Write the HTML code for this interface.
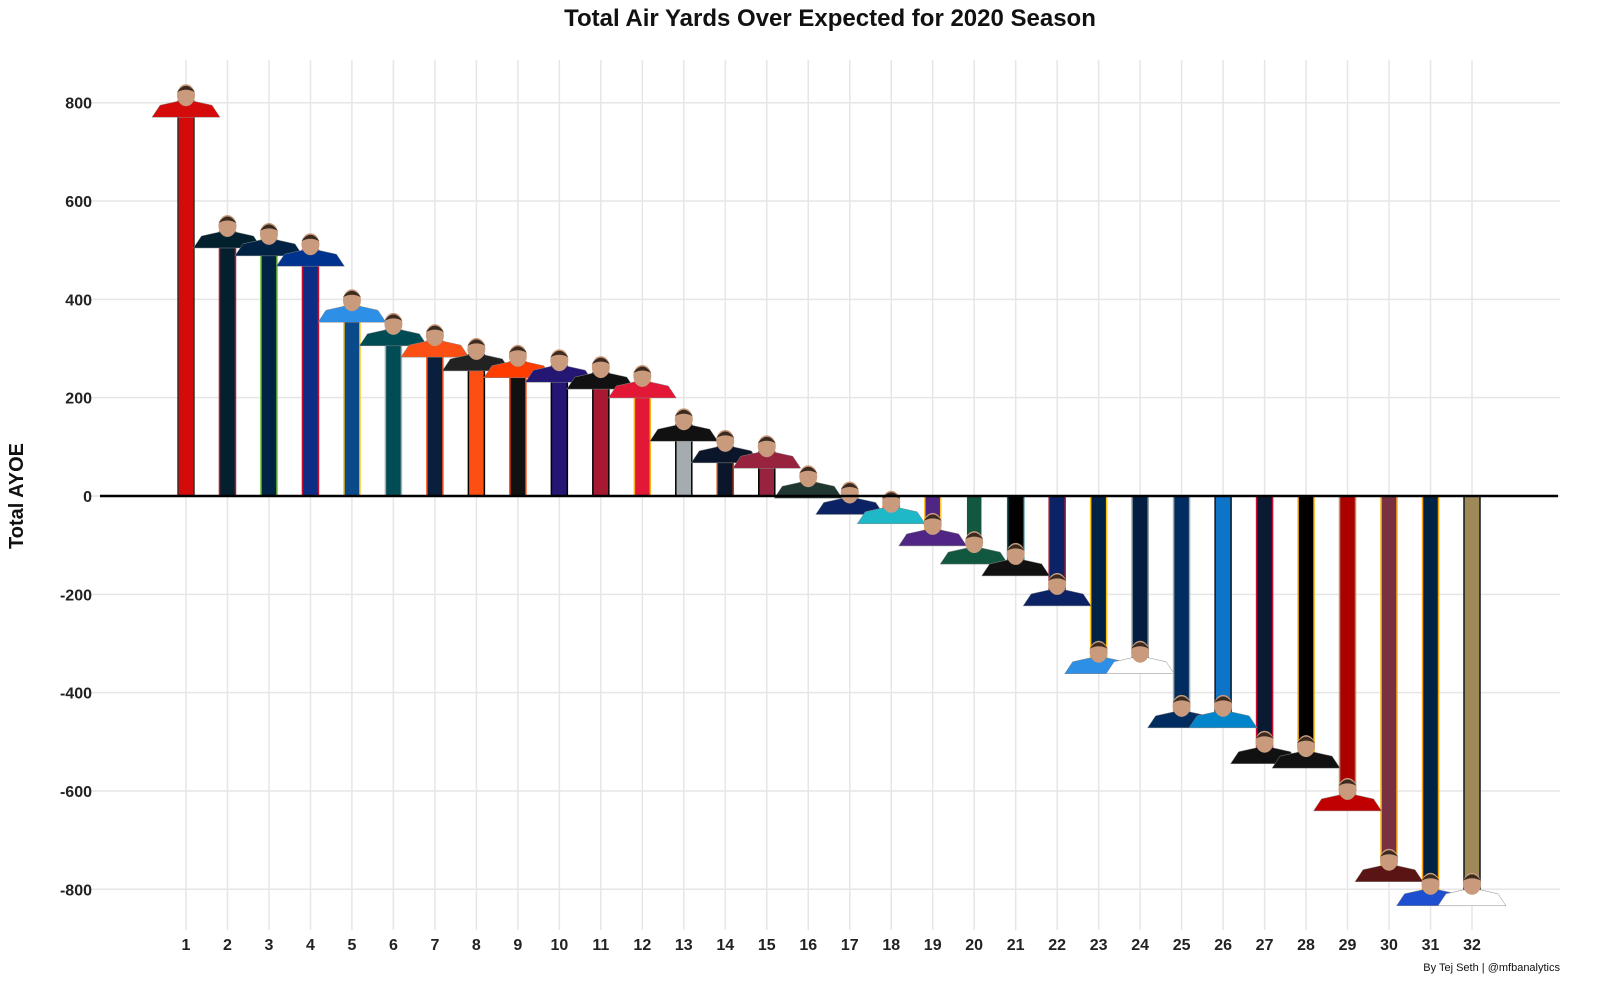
<!DOCTYPE html>
<html><head><meta charset="utf-8"><style>
html,body{margin:0;padding:0;background:#fff;font-family:"Liberation Sans",sans-serif;overflow:hidden;width:1600px;height:1000px}
svg{display:block}
svg text{font-family:"Liberation Sans",sans-serif}
</style></head><body>
<svg id="chart" width="1600" height="1000" xmlns="http://www.w3.org/2000/svg">
<text x="830" y="26" text-anchor="middle" font-size="24" font-weight="bold" fill="#111">Total Air Yards Over Expected for 2020 Season</text>
<text transform="translate(23,496) rotate(-90)" text-anchor="middle" font-size="20" font-weight="bold" fill="#111">Total AYOE</text>
<text x="1560" y="971" text-anchor="end" font-size="11" fill="#111">By Tej Seth | @mfbanalytics</text>
<g id="grid"></g><g id="bars"></g><g id="heads"></g><g id="axes"></g>
</svg>
<script>
const ranks=[1,2,3,4,5,6,7,8,9,10,11,12,13,14,15,16,17,18,19,20,21,22,23,24,25,26,27,28,29,30,31,32];
const ayoe=[803,537,521,500,386,338,315,287,273,264,250,232,144,100,89,28,-5,-24,-69,-106,-130,-191,-329,-329,-439,-439,-512,-521,-608,-752,-801,-801];
const fills=["#d50a0a","#03202f","#002244","#0c2d83","#0b4a8a","#004c54","#0a1f3d","#fb4f14","#111111","#241773","#a71930","#e31837","#a5acaf","#0b162a","#97233f","#203731","#0076b6","#008e97","#4f2683","#125740","#000000","#0b2265","#002244","#041e42","#002c5f","#0d74c7","#0a1a33","#000000","#aa0000","#773141","#002244","#9f8958"];
const outlines=["#34302b","#a71930","#69be28","#c60c30","#ffc20e","#a5acaf","#fb4f14","#000000","#ff3c00","#000000","#000000","#ffb81c","#000000","#c83803","#000000","#ffb612","#b0b7bc","#fc4c02","#ffc62f","#ffffff","#006778","#a71930","#ffc20e","#869397","#a2aaad","#101820","#c60c30","#ffb612","#b3995d","#ffb612","#ffa300","#101820"];
const jerseys=["#d50a0a","#03202f","#002244","#00338d","#2d8fe6","#004c54","#fb4f14","#222222","#ff3c00","#241773","#111111","#e31837","#111111","#0b162a","#97233f","#203731","#0b2265","#1fb8c8","#4f2683","#125740","#111111","#0b2265","#2d8fe6","#ffffff","#002c5f","#0085ca","#111111","#111111","#c00000","#5a1414","#1e4fd0","#ffffff"];
const yTicks=[-800,-600,-400,-200,0,200,400,600,800];
const ns="http://www.w3.org/2000/svg";
const x=r=>186+(r-1)*(1472-186)/31;
const y=v=>496-v*(393.3/800);
function mk(p,t,a){const e=document.createElementNS(ns,t);for(const k in a)e.setAttribute(k,a[k]);document.getElementById(p).appendChild(e);return e;}
yTicks.forEach(t=>{
 const l=mk("grid","line",{x1:90,x2:1560,y1:y(t),y2:y(t),stroke:"#e6e6e6","stroke-width":1.5});
 
 
 const tx=mk("axes","text",{x:92,y:y(t)+6,"text-anchor":"end","font-size":16,"font-weight":"bold",fill:"#222"});
 tx.textContent=t;
 
 
});
ranks.forEach((r,i)=>{
 const g=mk("grid","line",{x1:x(r),x2:x(r),y1:60,y2:930,stroke:"#e6e6e6","stroke-width":1.5});
 
 
 const v=ayoe[i];
 const b=mk("bars","rect",{x:x(r)-8,y:Math.min(y(v),y(0)),width:16,height:Math.abs(y(v)-y(0)),fill:fills[i],stroke:outlines[i],"stroke-width":1.5});
 
 
 const cx=x(r),cy=y(v);
 const s=mk("heads","path",{d:`M${cx-34} ${cy+16} L${cx-26} ${cy+4} L${cx-8} ${cy} L${cx+8} ${cy} L${cx+26} ${cy+4} L${cx+34} ${cy+16} Z`,fill:jerseys[i],stroke:"#888","stroke-width":0.5});
 
 
 const h=mk("heads","ellipse",{cx:cx,cy:cy-6,rx:9,ry:11,fill:"#c99a7c"});
 
 
 const hair=mk("heads","path",{d:`M${cx-9} ${cy-9} Q${cx} ${cy-22} ${cx+9} ${cy-9} Q${cx} ${cy-14} ${cx-9} ${cy-9} Z`,fill:"#3a2a20"});
 
 
 const lt=mk("axes","text",{x:x(r),y:950,"text-anchor":"middle","font-size":16,"font-weight":"bold",fill:"#222"});
 lt.textContent=r;
 
 
});
const z=mk("axes","line",{x1:100,x2:1558,y1:y(0),y2:y(0),stroke:"#000","stroke-width":2.5});


</script>
</body></html>
